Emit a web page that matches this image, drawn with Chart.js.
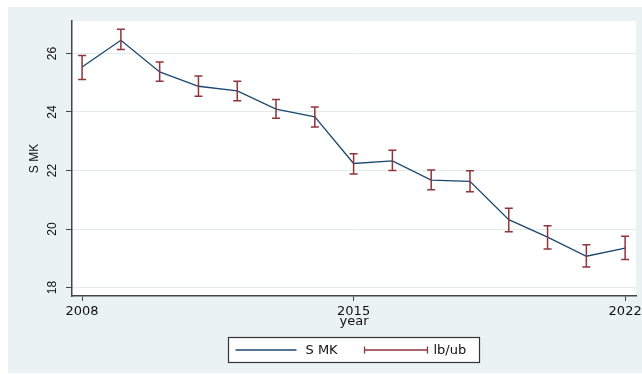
<!DOCTYPE html>
<html>
<head>
<meta charset="utf-8">
<script src="https://cdn.jsdelivr.net/npm/chart.js@4/dist/chart.umd.min.js"></script>
<style>
  html, body { margin: 0; padding: 0; background: #ffffff; }
  #wrap { position: absolute; left: 0; top: 0; width: 642px; height: 374px; }
</style>
</head>
<body>
<div id="wrap"><canvas id="c"></canvas></div>
<script>
// Survey years and the S MK estimate with its lower / upper bounds
const years = [2008, 2009, 2010, 2011, 2012, 2013, 2014, 2015, 2016, 2017, 2018, 2019, 2020, 2021, 2022];
const smk   = [25.54, 26.45, 25.37, 24.88, 24.72, 24.10, 23.83, 22.24, 22.33, 21.67, 21.63, 20.32, 19.72, 19.07, 19.35];
const lb    = [25.11, 26.14, 25.05, 24.54, 24.38, 23.79, 23.49, 21.88, 22.00, 21.34, 21.27, 19.91, 19.32, 18.70, 18.96];
const ub    = [25.93, 26.83, 25.71, 25.23, 25.05, 24.43, 24.17, 22.57, 22.69, 22.02, 21.99, 20.71, 20.11, 19.46, 19.75];

// Axis ticks and labels
const xTicks = [2008, 2015, 2022];
const yTicks = [18, 20, 22, 24, 26];
const xTitle = 'year';
const yTitle = 'S MK';
const legendLabels = ['S MK', 'lb/ub'];

const LINE_COLOR = '#1a476f';
const CI_COLOR = '#90353b';
const PANEL_BG = '#eaf2f3';
const AXIS_COLOR = '#444444';
const TEXT_COLOR = '#111111';

// Background: white page, tinted graph region, white plot region
const backdrop = {
  id: 'backdrop',
  beforeDraw(chart) {
    const { ctx, chartArea: a } = chart;
    ctx.save();
    ctx.fillStyle = '#ffffff';
    ctx.fillRect(0, 0, chart.width, chart.height);
    ctx.fillStyle = PANEL_BG;
    ctx.fillRect(8, 7, chart.width - 8, chart.height - 8);
    ctx.fillStyle = '#ffffff';
    ctx.fillRect(a.left, a.top, a.right - a.left, a.bottom - a.top);
    ctx.restore();
  }
};

// Vertical (upward-reading) tick labels on the y axis
const verticalYLabels = {
  id: 'verticalYLabels',
  afterDraw(chart) {
    const { ctx, scales: { y } } = chart;
    ctx.save();
    ctx.fillStyle = TEXT_COLOR;
    ctx.font = '12px "Liberation Sans"';
    ctx.textAlign = 'center';
    ctx.textBaseline = 'middle';
    y.ticks.forEach(t => {
      const py = y.getPixelForValue(t.value);
      ctx.save();
      ctx.translate(y.right - 19, py);
      ctx.rotate(-Math.PI / 2);
      ctx.fillText(String(t.value), 0, 0);
      ctx.restore();
    });
    ctx.restore();
  }
};

// Capped range bars from lb to ub at each year
const rangeCaps = {
  id: 'rangeCaps',
  afterDatasetsDraw(chart) {
    const { ctx, scales: { x, y } } = chart;
    const half = 4;
    ctx.save();
    ctx.strokeStyle = CI_COLOR;
    ctx.lineWidth = 1.5;
    ctx.lineCap = 'butt';
    years.forEach((yr, i) => {
      const px = x.getPixelForValue(yr);
      const pLo = y.getPixelForValue(lb[i]);
      const pHi = y.getPixelForValue(ub[i]);
      ctx.beginPath();
      ctx.moveTo(px, pLo); ctx.lineTo(px, pHi);
      ctx.moveTo(px - half, pLo); ctx.lineTo(px + half, pLo);
      ctx.moveTo(px - half, pHi); ctx.lineTo(px + half, pHi);
      ctx.stroke();
    });
    ctx.restore();
  }
};

// Boxed legend centred under the plot region
const boxedLegend = {
  id: 'boxedLegend',
  afterDraw(chart) {
    const { ctx, chartArea: a } = chart;
    const cx = (a.left + a.right) / 2;
    const bx = Math.round(cx - 126) + 0.5;
    const by = chart.height - 37 + 0.5;
    const bw = 251, bh = 25;
    const my = by + bh / 2;
    ctx.save();
    ctx.fillStyle = '#ffffff';
    ctx.fillRect(bx, by, bw, bh);
    ctx.strokeStyle = '#333333';
    ctx.lineWidth = 1.2;
    ctx.strokeRect(bx, by, bw, bh);

    // line key
    ctx.strokeStyle = LINE_COLOR;
    ctx.lineWidth = 1.3;
    ctx.beginPath();
    ctx.moveTo(bx + 7, my); ctx.lineTo(bx + 68, my);
    ctx.stroke();

    // range key
    ctx.strokeStyle = CI_COLOR;
    ctx.lineWidth = 1.3;
    ctx.beginPath();
    ctx.moveTo(bx + 136, my); ctx.lineTo(bx + 199, my);
    ctx.moveTo(bx + 136, my - 3.5); ctx.lineTo(bx + 136, my + 3.5);
    ctx.moveTo(bx + 199, my - 3.5); ctx.lineTo(bx + 199, my + 3.5);
    ctx.stroke();

    ctx.fillStyle = TEXT_COLOR;
    ctx.font = '13px "DejaVu Sans"';
    ctx.textBaseline = 'middle';
    ctx.textAlign = 'left';
    ctx.fillText(legendLabels[0], bx + 77, my + 0.5);
    ctx.fillText(legendLabels[1], bx + 205, my + 0.5);
    ctx.restore();
  }
};

new Chart(document.getElementById('c'), {
  type: 'line',
  data: {
    datasets: [{
      label: legendLabels[0],
      data: years.map((yr, i) => ({ x: yr, y: smk[i] })),
      borderColor: LINE_COLOR,
      borderWidth: 1.3,
      pointRadius: 0,
      tension: 0,
      fill: false
    }]
  },
  options: {
    responsive: true,
    maintainAspectRatio: false,
    animation: false,
    layout: { padding: { left: 8, top: 21, right: 6, bottom: 0 } },
    plugins: {
      legend: { display: false },
      tooltip: { enabled: false }
    },
    scales: {
      x: {
        type: 'linear',
        min: 2007.74,
        max: 2022.28,
        afterBuildTicks: s => { s.ticks = xTicks.map(v => ({ value: v })); },
        afterFit: s => { s.height = 78; s.paddingLeft = 0; s.paddingRight = 0; },
        ticks: {
          callback: v => String(v),
          color: TEXT_COLOR,
          font: { family: 'DejaVu Sans', size: 13 },
          padding: 3,
          maxRotation: 0,
          autoSkip: false
        },
        grid: {
          color: 'rgba(0,0,0,0)',
          tickColor: AXIS_COLOR,
          tickLength: 5,
          drawTicks: true
        },
        border: { color: AXIS_COLOR, width: 1.5 },
        title: {
          display: true,
          text: xTitle,
          color: TEXT_COLOR,
          font: { family: 'DejaVu Sans', size: 13 },
          padding: { top: 0, bottom: 45 }
        }
      },
      y: {
        type: 'linear',
        min: 17.71,
        max: 27.11,
        afterBuildTicks: s => { s.ticks = yTicks.map(v => ({ value: v })); },
        afterFit: s => { s.width = 64; },
        ticks: {
          callback: v => String(v),
          color: 'rgba(0,0,0,0)',
          font: { family: 'Liberation Sans', size: 12 },
          padding: 6
        },
        grid: {
          color: '#e2eaec',
          lineWidth: 1,
          tickColor: AXIS_COLOR,
          tickLength: 6,
          drawTicks: true
        },
        border: { color: AXIS_COLOR, width: 1.5 },
        title: {
          display: true,
          text: yTitle,
          color: TEXT_COLOR,
          font: { family: 'Liberation Sans', size: 12 },
          padding: { top: 19, bottom: 0 }
        }
      }
    }
  },
  plugins: [backdrop, verticalYLabels, rangeCaps, boxedLegend]
});
</script>
</body>
</html>
